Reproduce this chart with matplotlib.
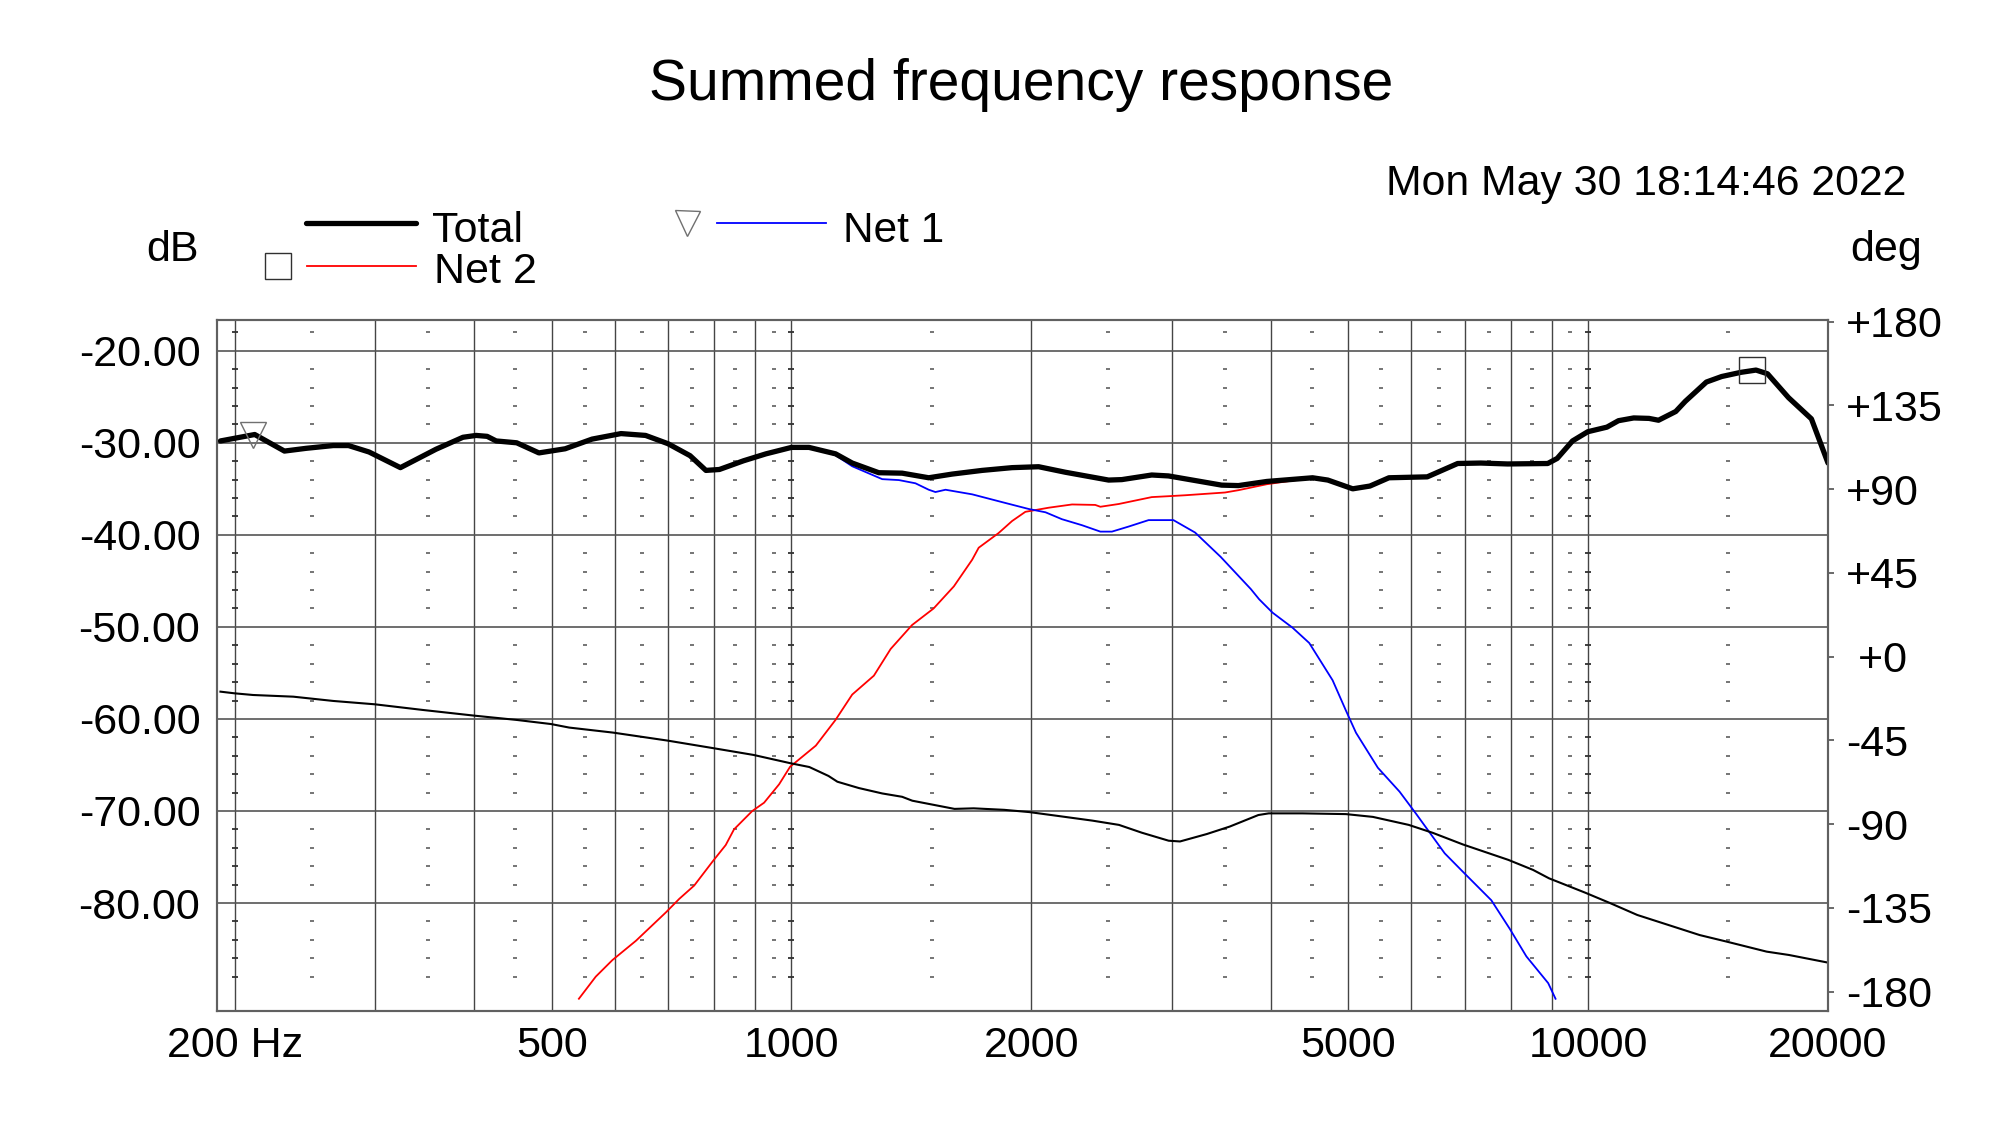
import matplotlib
matplotlib.use('Agg')
import matplotlib.pyplot as plt
from matplotlib.ticker import NullLocator

plt.rcParams['font.family'] = ['Liberation Sans', 'DejaVu Sans']

# Total response, dB (thick black)
total_f = [192, 212, 231, 246, 266, 278, 295, 323, 358, 387, 402, 415, 426, 452,
           482, 520, 562, 611, 656, 700, 746, 781, 812, 871, 929, 1000, 1052,
           1136, 1192, 1287, 1377, 1487, 1591, 1735, 1892, 2043, 2207, 2501,
           2598, 2833, 2973, 3211, 3467, 3639, 3951, 4509, 4713, 5064, 5322,
           5623, 6281, 6858, 7333, 7923, 8897, 9144, 9557, 9988, 10557, 10915,
           11408, 11923, 12255, 12881, 13240, 14073, 14709, 15540, 16243, 16791,
           17846, 19064, 20000]
total_db = [-29.8, -29.1, -30.9, -30.6, -30.3, -30.3, -31.0, -32.7, -30.7, -29.4,
            -29.2, -29.3, -29.8, -30.0, -31.1, -30.65, -29.6, -29.0, -29.2, -30.1,
            -31.4, -33.0, -32.9, -31.95, -31.2, -30.5, -30.5, -31.2, -32.2, -33.25,
            -33.3, -33.8, -33.4, -33.0, -32.7, -32.6, -33.2, -34.05, -34.0, -33.5,
            -33.6, -34.1, -34.6, -34.65, -34.2, -33.8, -34.05, -35.0, -34.7, -33.8,
            -33.7, -32.25, -32.2, -32.3, -32.25, -31.7, -29.8, -28.8, -28.3, -27.6,
            -27.3, -27.35, -27.55, -26.6, -25.5, -23.4, -22.8, -22.35, -22.1, -22.5,
            -25.1, -27.4, -32.2]

# Net 1, dB (blue) - under the total line below ~1.1 kHz
net1_f = [192, 212, 231, 246, 266, 278, 295, 323, 358, 387, 402, 415, 426, 452,
          482, 520, 562, 611, 656, 700, 746, 781, 812, 871, 929, 1000, 1052,
          1084, 1136, 1192, 1300, 1364, 1431, 1487, 1516, 1561, 1686, 1839, 1987,
          2084, 2185, 2315, 2442, 2525, 2650, 2807, 3016, 3211, 3458, 3773, 3864,
          4016, 4257, 4466, 4778, 4966, 5112, 5445, 5798, 6081, 6606, 6962, 7559,
          7972, 8365, 8909, 9100]
net1_db = [-29.8, -29.1, -30.9, -30.6, -30.3, -30.3, -31.0, -32.7, -30.7, -29.4,
           -29.2, -29.3, -29.8, -30.0, -31.1, -30.65, -29.6, -29.0, -29.2, -30.1,
           -31.4, -33.0, -32.9, -31.95, -31.2, -30.5, -30.55, -30.8, -31.35, -32.55,
           -33.95, -34.05, -34.4, -35.1, -35.35, -35.1, -35.6, -36.45, -37.2, -37.55,
           -38.3, -38.95, -39.65, -39.65, -39.1, -38.4, -38.4, -39.75, -42.4, -45.9,
           -47.0, -48.45, -50.1, -51.75, -55.8, -59.1, -61.5, -65.3, -67.9, -70.3,
           -74.6, -76.6, -79.7, -82.8, -85.8, -88.7, -90.4]

# Net 2, dB (red) - under the total line above ~4.5 kHz
net2_f = [541, 568, 596, 638, 696, 723, 755, 796, 827, 847, 893, 924, 965, 996,
          1073, 1136, 1192, 1269, 1332, 1417, 1508, 1599, 1686, 1718, 1820, 1892,
          1966, 2104, 2250, 2406, 2442, 2575, 2833, 2977, 3120, 3501, 3639, 3951,
          4509, 4713, 5064, 5322, 5623, 6281, 6858, 7333, 7923, 8897, 9144, 9557,
          9988, 10557, 10915, 11408, 11923, 12255, 12881, 13240, 14073, 14709,
          15540, 16243, 16791, 17846, 19064, 20000]
net2_db = [-90.4, -88.0, -86.2, -84.1, -81.0, -79.55, -78.1, -75.5, -73.7, -72.0,
           -70.0, -69.1, -67.1, -65.2, -62.9, -60.1, -57.35, -55.3, -52.4, -49.8,
           -48.0, -45.6, -42.7, -41.4, -39.8, -38.5, -37.5, -37.05, -36.7, -36.75,
           -36.95, -36.65, -35.9, -35.8, -35.7, -35.4, -35.15, -34.5, -33.8, -34.05,
           -35.0, -34.7, -33.8, -33.7, -32.25, -32.2, -32.3, -32.25, -31.7, -29.8,
           -28.8, -28.3, -27.6, -27.3, -27.35, -27.55, -26.6, -25.5, -23.4, -22.8,
           -22.35, -22.1, -22.5, -25.1, -27.4, -32.2]

# Phase of the total, degrees (thin black, right axis)
phase_f = [192, 200, 211, 237, 266, 300, 344, 400, 452, 499, 526, 597, 699, 796,
           896, 998, 1053, 1113, 1142, 1215, 1300, 1377, 1418, 1602, 1693, 1849,
           1987, 2136, 2386, 2577, 2753, 2975, 3074, 3322, 3549, 3855, 3973, 4378,
           4966, 5368, 5954, 6385, 6962, 7940, 8529, 8930, 9912, 10666, 11525,
           12614, 13804, 14917, 16750, 17867, 20000]
phase_deg = [-18.8, -19.7, -20.6, -21.5, -23.8, -25.6, -28.6, -31.7, -34.0, -36.2,
             -38.1, -40.8, -45.1, -49.1, -52.8, -57.3, -59.3, -64.1, -67.2, -70.6,
             -73.5, -75.3, -77.4, -81.8, -81.5, -82.3, -83.5, -85.3, -88.1, -90.4,
             -94.6, -98.9, -99.3, -95.3, -91.3, -85.1, -84.2, -84.2, -84.6, -86.1,
             -90.4, -94.7, -100.9, -109.2, -114.6, -119.1, -126.8, -132.5, -138.8,
             -144.2, -149.6, -153.1, -158.5, -160.3, -164.4]

# cursor markers sitting on the curves
net1_mark = (211, -29.1)
net2_mark = (16050, -22.1)

freq_ticks = [200, 500, 1000, 2000, 5000, 10000, 20000]
freq_labels = ['200 Hz', '500', '1000', '2000', '5000', '10000', '20000']
db_ticks = [-20, -30, -40, -50, -60, -70, -80]
db_labels = ['-20.00', '-30.00', '-40.00', '-50.00', '-60.00', '-70.00', '-80.00']
deg_ticks = [180, 135, 90, 45, 0, -45, -90, -135, -180]
deg_labels = ['+180', '+135', '+90', '+45', ' +0', '-45', '-90', '-135', '-180']

grid_f = [200, 300, 400, 500, 600, 700, 800, 900,
          1000, 2000, 3000, 4000, 5000, 6000, 7000, 8000, 9000, 10000]
dash_f = [250, 350, 450, 550, 650, 750, 850, 950,
          1500, 2500, 3500, 4500, 5500, 6500, 7500, 8500, 9500, 15000]
decade_f = [200, 1000, 10000]
dash_db = [-18, -22, -24, -26, -28, -32, -34, -36, -38, -42, -44, -46, -48,
           -52, -54, -56, -58, -62, -64, -66, -68, -72, -74, -76, -78,
           -82, -84, -86, -88]

W, H = 2000, 1125
fig = plt.figure(figsize=(20, 11.25), dpi=100)
ax = fig.add_axes([217 / W, 1 - 1011 / H, (1828 - 217) / W, (1011 - 320) / H])
ax.set_xscale('log')
ax.set_xlim(190.1, 20000)
ax.set_ylim(-91.73, -16.66)

grid_col = '#454545'
for f in grid_f:
    ax.axvline(f, color=grid_col, lw=1.0, zorder=1)
for d in db_ticks:
    ax.axhline(d, color='#555555', lw=1.2, zorder=1)

# the little dash pattern between grid lines
ax.plot([f for f in dash_f for d in dash_db], [d for f in dash_f for d in dash_db],
        ls='none', marker='_', ms=3.2, mew=1.1, color='#505050', zorder=1.5)
ax.plot([f for f in decade_f for d in dash_db], [d for f in decade_f for d in dash_db],
        ls='none', marker='_', ms=5, mew=1.3, color='#303030', zorder=1.5)

ax.plot(net2_f, net2_db, color='#ff0000', lw=1.3, zorder=2)
ax.plot(net1_f, net1_db, color='#0000ff', lw=1.3, zorder=2.1)
ax.plot(total_f, total_db, color='black', lw=3.8, zorder=3,
        solid_joinstyle='round', solid_capstyle='round')
ax.plot([net1_mark[0]], [net1_mark[1]], marker='v', ms=19, mfc='none',
        mec='#707070', mew=1.0, zorder=4)
ax.plot([net2_mark[0]], [net2_mark[1]], marker='s', ms=19, mfc='none',
        mec='#303030', mew=1.0, zorder=4)

ax.set_xticks(freq_ticks)
ax.set_xticklabels(freq_labels)
ax.xaxis.set_minor_locator(NullLocator())
ax.set_yticks(db_ticks)
ax.set_yticklabels(db_labels)
ax.tick_params(axis='x', length=0, pad=11, labelsize=31)
ax.tick_params(axis='y', length=0, pad=12, labelsize=31)

ax2 = ax.twinx()
ax2.set_ylim(-190.4, 180.9)
ax2.plot(phase_f, phase_deg, color='black', lw=1.5)
ax2.set_yticks(deg_ticks)
ax2.set_yticklabels(deg_labels)
ax2.tick_params(axis='y', direction='out', length=4, width=1.2, color='#505050',
                pad=9, labelsize=31)

for a in (ax, ax2):
    for s in a.spines.values():
        s.set_color('#606060')
        s.set_linewidth(1.5)

# header: title, date, axis units and the legend, placed in pixel units
top = fig.add_axes([0, 0, 1, 1], zorder=10)
top.set_xlim(0, W)
top.set_ylim(H, 0)
top.axis('off')
top.patch.set_alpha(0)

top.text(1021, 100, 'Summed frequency response', fontsize=41, ha='center', va='baseline')
top.text(1906, 195, 'Mon May 30 18:14:46 2022', fontsize=30.8, ha='right', va='baseline')
top.text(172, 261, 'dB', fontsize=31, ha='center', va='baseline')
top.text(1886, 261, 'deg', fontsize=31, ha='center', va='baseline')

top.plot([306, 416], [223, 223], color='black', lw=3.8, solid_capstyle='round')
top.text(432, 242, 'Total', fontsize=31, va='baseline')
top.plot([277.5], [265.5], marker='s', ms=19, mfc='none', mec='#303030', mew=1.0)
top.plot([307, 416], [265.5, 265.5], color='#ff0000', lw=1.3)
top.text(434, 283, 'Net 2', fontsize=31, va='baseline')
top.plot([687], [222.5], marker='v', ms=18, mfc='none', mec='#707070', mew=1.0)
top.plot([717, 826], [223, 223], color='#0000ff', lw=1.3)
top.text(843, 242, 'Net 1', fontsize=30.5, va='baseline')

fig.savefig('out.png', dpi=100, facecolor='white')
